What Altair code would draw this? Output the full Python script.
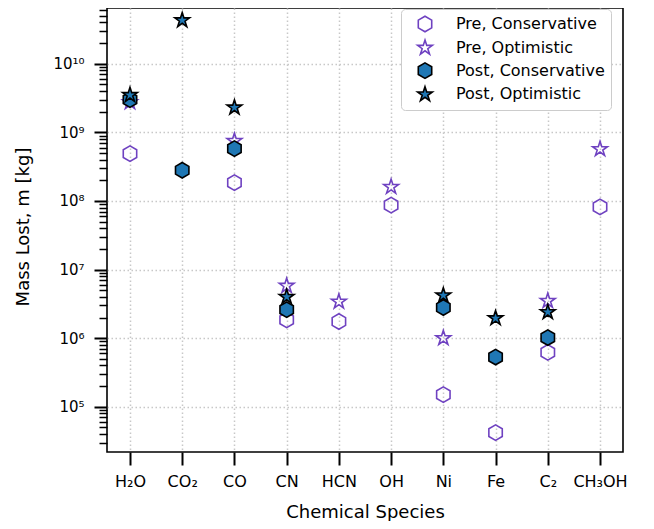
import altair as alt
import pandas as pd

species = ["H₂O", "CO₂", "CO", "CN", "HCN", "OH", "Ni", "Fe", "C₂", "CH₃OH"]
series_names = ["Pre, Conservative", "Pre, Optimistic", "Post, Conservative", "Post, Optimistic"]

pre_cons = [4.9e8, None, 1.85e8, 1.85e6, 1.75e6, 8.7e7, 1.5e5, 4.2e4, 6.2e5, 8.2e7]
pre_opt = [2.75e9, None, 7.5e8, 5.8e6, 3.4e6, 1.6e8, 1.0e6, None, 3.5e6, 5.7e8]
post_cons = [3.0e9, 2.8e8, 5.8e8, 2.6e6, None, None, 2.8e6, 5.3e5, 1.02e6, None]
post_opt = [3.5e9, 4.3e10, 2.3e9, 4.0e6, None, None, 4.2e6, 1.95e6, 2.4e6, None]

rows = []
for name, vals in zip(series_names, [pre_cons, pre_opt, post_cons, post_opt]):
    for sp, v in zip(species, vals):
        if v is not None:
            rows.append({"species": sp, "series": name, "value": v})
df = pd.DataFrame(rows)

purple = "#6f42c1"
blue = "#1f77b4"
hexagon = "M0,-1L0.866,-0.5L0.866,0.5L0,1L-0.866,0.5L-0.866,-0.5Z"
star = ("M0,-1L0.2245,-0.309L0.9511,-0.309L0.3633,0.118L0.5878,0.809L0,0.382"
        "L-0.5878,0.809L-0.3633,0.118L-0.9511,-0.309L-0.2245,-0.309Z")

ymin, ymax = 2.19e4, 6.5e10
tick_vals = []
for k in range(4, 11):
    for m in range(1, 10):
        v = float(m * 10 ** k)
        if ymin <= v <= ymax:
            tick_vals.append(v)

is_major = "abs(log(datum.value)/LN10 - round(log(datum.value)/LN10)) < 1e-6"
sup = ("(round(log(datum.value)/LN10)==10 ? '¹⁰' : round(log(datum.value)/LN10)==9 ? '⁹' : "
       "round(log(datum.value)/LN10)==8 ? '⁸' : round(log(datum.value)/LN10)==7 ? '⁷' : "
       "round(log(datum.value)/LN10)==6 ? '⁶' : round(log(datum.value)/LN10)==5 ? '⁵' : '⁴')")
label_expr = f"({is_major}) ? '10' + {sup} : ''"

legend = alt.Legend(
    title=None, orient="none", legendX=294, legendY=1,
    labelFontSize=16, labelFont="DejaVu Sans", labelColor="black",
    symbolSize=240, symbolStrokeWidth=1.6, symbolOffset=9, labelOffset=22,
    padding=6, rowPadding=1.8, strokeColor="#cccccc", cornerRadius=4,
    fillColor="white",
)

chart = alt.Chart(df).mark_point(size=240, strokeWidth=1.6, opacity=1).encode(
    x=alt.X("species:N", sort=species,
            scale=alt.Scale(type="point", padding=0.44),
            axis=alt.Axis(title="Chemical Species", labelAngle=0, labelFontSize=16,
                          labelPadding=8, tickSize=13, tickWidth=2, tickColor="black",
                          domain=False, grid=True, gridColor="#c8c8c8", gridDash=[1.5, 2.5],
                          gridWidth=1.5, titleFontSize=18, titleFontWeight="normal",
                          titleBaseline="alphabetic", titleY=65, labelColor="black",
                          titleColor="black")),
    y=alt.Y("value:Q",
            scale=alt.Scale(type="log", domain=[ymin, ymax], nice=False),
            axis=alt.Axis(title="Mass Lost, m [kg]", values=tick_vals, labelExpr=label_expr,
                          labelFontSize=15, labelPadding=10, labelColor="black",
                          tickSize={"condition": {"test": is_major, "value": 13}, "value": 8},
                          tickWidth={"condition": {"test": is_major, "value": 2}, "value": 1.5},
                          tickColor="black", domain=False, grid=True, gridColor="#c8c8c8",
                          gridDash=[1.5, 2.5], gridWidth=1.5,
                          gridOpacity={"condition": {"test": is_major, "value": 1}, "value": 0},
                          titleFontSize=18, titleFontWeight="normal", titleX=-75,
                          titleY=218.5, titleColor="black")),
    shape=alt.Shape("series:N", sort=series_names,
                    scale=alt.Scale(domain=series_names, range=[hexagon, star, hexagon, star]),
                    legend=legend),
    fill=alt.Fill("series:N", sort=series_names,
                  scale=alt.Scale(domain=series_names,
                                  range=["transparent", "transparent", blue, blue]),
                  legend=legend),
    stroke=alt.Stroke("series:N", sort=series_names,
                      scale=alt.Scale(domain=series_names,
                                      range=[purple, purple, "black", "black"]),
                      legend=legend),
).properties(
    width=516, height=444,
    autosize=alt.AutoSizeParams(type="none"),
    padding={"left": 99, "top": 0, "right": 15, "bottom": 69},
).configure(
    font="DejaVu Sans",
).configure_view(
    stroke="black", strokeWidth=1.6,
)

chart.save("out.html", embed_options={"renderer": "svg", "actions": False})
